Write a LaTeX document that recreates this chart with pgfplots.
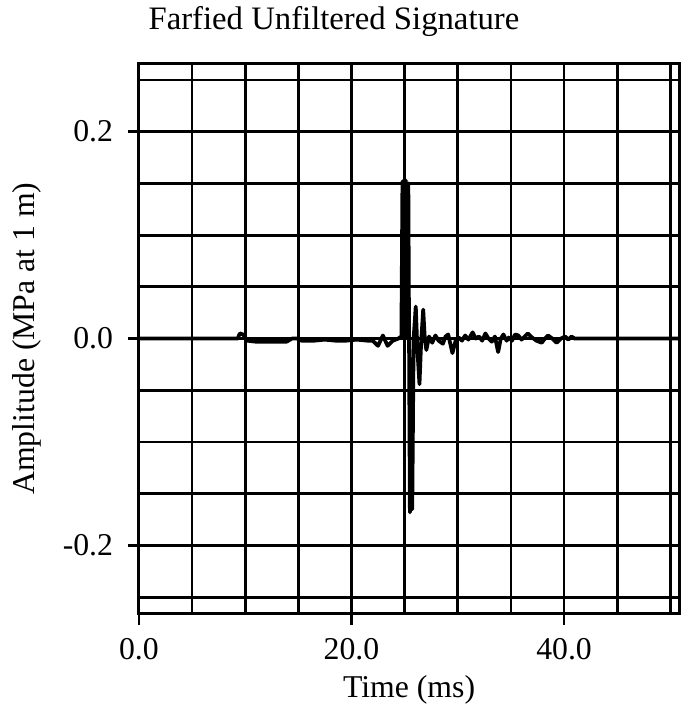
\documentclass[border=0pt]{standalone}
\usepackage{fontspec}
\setmainfont{Liberation Serif}
\usepackage{pgfplots}
\pgfplotsset{compat=1.18}
\begin{document}
\begin{tikzpicture}
\begin{axis}[
  name=ax,
  scale only axis,
  width=272.5pt, height=277.5pt,
  xmin=0, xmax=50.85, ymin=-0.266, ymax=0.266,
  xtick={0,20,40}, ytick={-0.2,0,0.2},
  minor xtick={5,10,15,25,30,35,45,50},
  minor ytick={-0.25,-0.15,-0.1,-0.05,0.05,0.1,0.15,0.25},
  grid=both,
  major grid style={black, line width=1.4pt},
  minor grid style={black, line width=1.4pt},
  tick align=outside, major tick length=5.5pt, minor tick length=0pt,
  xtick pos=lower, ytick pos=left,
  tick style={black, line width=1.3pt},
  axis line style={black, line width=1.6pt},
  /pgf/number format/assume math mode=true,
  /pgf/number format/.cd, fixed, fixed zerofill, precision=1, /pgfplots/.cd,
  scaled ticks=false,
  tick label style={font=\fontsize{16}{19}\selectfont},
  xticklabel style={yshift=-3.5pt},
  yticklabel style={xshift=-4pt},
  every axis title/.style={at={(axis description cs:0.005,1)}, anchor=base west, yshift=17pt, font=\fontsize{16.5}{20}\selectfont},
  every axis x label/.style={at={(axis description cs:0.5,0)}, anchor=base, yshift=-42pt, font=\fontsize{16}{19}\selectfont},
  every axis y label/.style={at={(axis description cs:-0.2073,0.5)}, rotate=90, anchor=center, font=\fontsize{16}{19}\selectfont},
  title={Farfied Unfiltered Signature},
  xlabel={Time (ms)},
  ylabel={Amplitude (MPa at 1 m)},
]
\addplot[black, line width=1.9pt, line join=round] coordinates {
(0,0) (9.3,0) (9.5,0.005) (9.8,0.004) (10.2,-0.002) (11.0,-0.003) (12.0,-0.003)
(13.0,-0.003) (13.9,-0.003) (14.4,0.0) (14.9,0.0) (15.3,-0.002) (16.5,-0.002)
(17.5,-0.001) (18.5,-0.002) (19.5,-0.002) (20.5,-0.001) (21.5,-0.002) (22.0,-0.002)
(22.5,-0.007) (22.96,0.003) (23.4,-0.007) (23.9,-0.002) (24.4,0.0) (24.7,0.002)
(24.8,0.152) (24.95,0.01) (25.1,0.153) (25.25,0.0) (25.35,0.150) (25.5,-0.168)
(25.62,-0.02) (25.72,-0.165) (25.85,0.0) (26.05,0.031) (26.2,-0.01) (26.4,-0.044)
(26.55,-0.005) (26.75,0.028) (26.9,0.0) (27.05,-0.011) (27.3,0.002) (27.6,-0.004)
(27.9,0.003) (28.2,-0.002) (28.6,-0.005) (28.85,0.002) (29.1,0.004) (29.5,-0.014)
(29.8,-0.002) (30.1,0.001) (30.4,-0.002) (30.7,0.003) (31.0,-0.001) (31.4,0.006)
(31.7,0.0) (32.0,0.002) (32.3,-0.002) (32.6,0.005) (32.9,0.0) (33.2,-0.003)
(33.5,0.002) (33.8,-0.013) (34.05,0.0) (34.3,0.004) (34.6,-0.002) (34.8,0.001)
(35.1,-0.002) (35.4,0.004) (35.7,0.003) (36.0,-0.001) (36.3,0.002) (36.6,0.005)
(37.0,0.001) (37.4,-0.002) (37.9,-0.004) (38.2,0.0) (38.5,0.003) (38.9,0.0)
(39.3,-0.004) (39.7,0.0) (40.1,0.002) (40.4,-0.001) (40.7,0.002) (41.0,0.0)
(50.85,0)
};
\end{axis}
\path ([xshift=-70pt,yshift=-49.5pt]ax.south west) rectangle ([xshift=1pt,yshift=29pt]ax.north east);
\end{tikzpicture}
\end{document}
